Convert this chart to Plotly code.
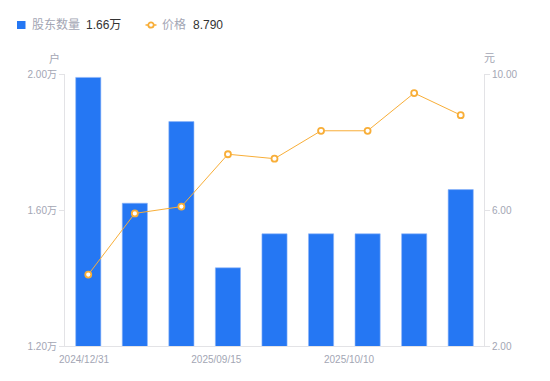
import plotly.graph_objects as go

dates = ["2024/12/31", "2025/03/31", "2025/06/30", "2025/09/15", "2025/09/19",
         "2025/09/30", "2025/10/10", "2025/10/20", "2025/10/31"]
holders = [1.99, 1.62, 1.86, 1.43, 1.53, 1.53, 1.53, 1.53, 1.66]  # 万户
price = [4.10, 5.90, 6.10, 7.64, 7.51, 8.33, 8.33, 9.44, 8.79]
tick_labels = ["2024/12/31", "2025/09/15", "2025/10/10"]
tick_pos = [-0.09, 2.75, 5.6]
left_ticks = [1.2, 1.6, 2.0]
right_ticks = [2, 6, 10]

BLUE = "#2577F3"
ORANGE = "#F8AE38"
GRAY = "#A3A6B4"
FONT = "Liberation Sans, Noto Sans CJK SC, sans-serif"

x = list(range(len(dates)))

fig = go.Figure()
fig.add_trace(go.Bar(x=x, y=holders, name="股东数量", marker_color=BLUE,
                     marker_line=dict(color="#8DB6F8", width=0.6), width=0.54,
                     yaxis="y", showlegend=False, customdata=dates))
fig.add_trace(go.Scatter(x=x, y=price, name="价格", mode="lines+markers",
                         line=dict(color=ORANGE, width=1),
                         marker=dict(symbol="circle", size=6, color="white",
                                     line=dict(color=ORANGE, width=1.8)),
                         yaxis="y2", showlegend=False, customdata=dates))

axis_common = dict(showgrid=False, zeroline=False, showline=True, linecolor="#E3E3E6",
                   linewidth=1, ticks="outside", ticklen=5, tickcolor="#E3E3E6",
                   automargin=False,
                   tickfont=dict(family=FONT, size=10, color=GRAY))

fig.update_layout(
    width=550, height=381,
    margin=dict(l=65, r=66, t=74, b=35),
    plot_bgcolor="white", paper_bgcolor="white",
    xaxis=dict(range=[-0.5, len(dates) - 0.5], tickvals=tick_pos, ticktext=tick_labels,
               showgrid=False, zeroline=False, showline=True, linecolor="#E3E3E6",
               ticks="", ticklabelstandoff=4, automargin=False,
               tickfont=dict(family=FONT, size=10, color=GRAY)),
    yaxis=dict(range=[1.2, 2.0], tickvals=left_ticks,
               ticktext=[f"{v:.2f}万" for v in left_ticks], **axis_common),
    yaxis2=dict(range=[2, 10], tickvals=right_ticks,
                ticktext=[f"{v:.2f}" for v in right_ticks],
                overlaying="y", side="right", **axis_common),
    font=dict(family=FONT),
)

# axis unit titles
fig.add_annotation(text="户", xref="paper", yref="paper", x=-0.025, y=1.0, yshift=16,
                   showarrow=False, xanchor="center", yanchor="middle",
                   font=dict(family=FONT, size=11, color=GRAY))
fig.add_annotation(text="元", xref="paper", yref="paper", x=1.012, y=1.0, yshift=16,
                   showarrow=False, xanchor="center", yanchor="middle",
                   font=dict(family=FONT, size=11, color=GRAY))

# custom legend
def px(v):
    return (v - 65) / 419

def py(v):
    return 1 + (74 - v) / 272

ly = py(25)
fig.add_shape(type="rect", xref="paper", yref="paper",
              x0=px(17), x1=px(25.5), y0=py(29), y1=py(21),
              fillcolor=BLUE, line=dict(width=0))
fig.add_annotation(text="股东数量", xref="paper", yref="paper", x=px(30), y=ly,
                   showarrow=False, xanchor="left", yanchor="middle",
                   font=dict(family=FONT, size=12, color=GRAY))
fig.add_annotation(text=f"{holders[-1]:.2f}万", xref="paper", yref="paper", x=px(84), y=ly,
                   showarrow=False, xanchor="left", yanchor="middle",
                   font=dict(family=FONT, size=12, color="#333"))
fig.add_shape(type="line", xref="paper", yref="paper",
              x0=px(145.5), x1=px(156.5), y0=ly, y1=ly,
              line=dict(color=ORANGE, width=1.5))
fig.add_shape(type="circle", xref="paper", yref="paper",
              x0=px(148.3), x1=px(153.7), y0=py(27.7), y1=py(22.3),
              fillcolor="white", line=dict(color=ORANGE, width=1.8))
fig.add_annotation(text="价格", xref="paper", yref="paper", x=px(160), y=ly,
                   showarrow=False, xanchor="left", yanchor="middle",
                   font=dict(family=FONT, size=12, color=GRAY))
fig.add_annotation(text=f"{price[-1]:.3f}", xref="paper", yref="paper", x=px(190.5), y=ly,
                   showarrow=False, xanchor="left", yanchor="middle",
                   font=dict(family=FONT, size=12, color="#333"))

fig.write_html("out.html", config={"displayModeBar": False},
               post_script="document.body.style.margin='0';")
